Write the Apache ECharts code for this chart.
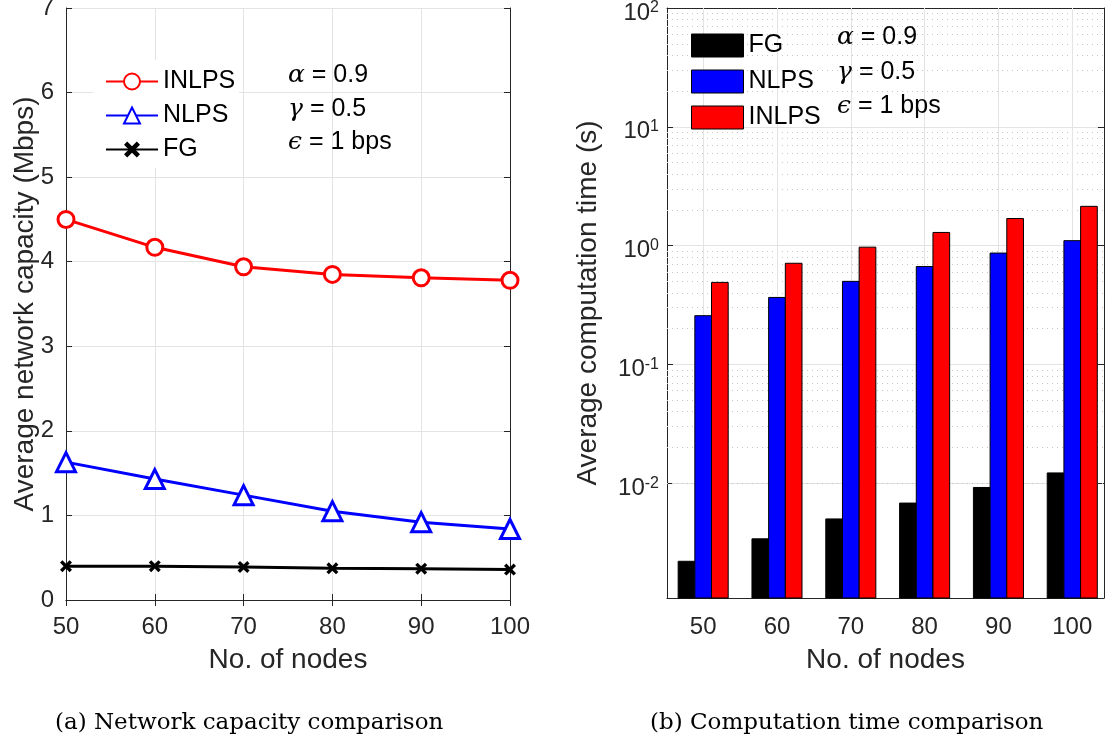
<!DOCTYPE html>
<html>
<head>
<meta charset="utf-8">
<script src="https://cdn.jsdelivr.net/npm/echarts@6/dist/echarts.min.js"></script>
<style>
  html, body { margin: 0; padding: 0; background: #fff; }
  #left { position: absolute; left: 0; top: 0; width: 552px; height: 749px; }
  #right { position: absolute; left: 552px; top: 0; width: 553px; height: 749px; }
</style>
</head>
<body>
<div id="left"></div>
<div id="right"></div>
<script>
// data
var nodes = [50, 60, 70, 80, 90, 100];

var capINLPS = [4.50, 4.17, 3.94, 3.85, 3.81, 3.78];
var capNLPS = [1.63, 1.43, 1.24, 1.05, 0.92, 0.84];
var capFG = [0.40, 0.40, 0.39, 0.375, 0.37, 0.36];

var timeFG = [0.0022, 0.0034, 0.0050, 0.0068, 0.0092, 0.0122];
var timeNLPS = [0.257, 0.366, 0.50, 0.666, 0.865, 1.10];
var timeINLPS = [0.49, 0.71, 0.97, 1.29, 1.69, 2.14];

var paramLines = [['α', ' = 0.9'], ['γ', ' = 0.5'], ['ϵ', ' = 1 bps']];

var font = 'Liberation Sans, Arial, Helvetica, sans-serif';
var ink = '#262626';
var gridCol = '#e3e3e3';
var tickSize = 24, nameSize = 28, legSize = 25;

function pairs(xs, ys) {
  return xs.map(function (x, i) { return [x, ys[i]]; });
}

function paramTexts(x, ys) {
  return paramLines.map(function (p, i) {
    return {
      type: 'text', left: x, top: ys[i] - 15, z: 10,
      style: {
        text: '{i|' + p[0] + '}' + p[1],
        font: legSize + 'px ' + font, fill: '#000',
        rich: { i: { fontFamily: 'DejaVu Serif', fontStyle: 'italic', fontSize: legSize } }
      }
    };
  });
}

function boxAxis(opt) {
  return Object.assign({
    axisLine: { lineStyle: { color: ink, width: 1 } },
    axisTick: { inside: true, length: 6, lineStyle: { color: ink } },
    axisLabel: { show: false },
    splitLine: { show: false }
  }, opt);
}

var nameStyle = { fontSize: nameSize, color: ink, fontFamily: font };
var captionFont = '23px DejaVu Serif';

// ---------- left: network capacity ----------
var left = echarts.init(document.getElementById('left'));
var crossPath = 'path://M2,0 L5,3 L8,0 L10,2 L7,5 L10,8 L8,10 L5,7 L2,10 L0,8 L3,5 L0,2 Z';

left.setOption({
  animation: false,
  grid: { left: 66, top: 8, width: 444, height: 592, outerBoundsMode: 'none', containLabel: false },
  xAxis: [
    boxAxis({
      type: 'value', min: 50, max: 100, interval: 10,
      axisLabel: { show: true, fontSize: tickSize, color: ink, fontFamily: font, margin: 15 },
      splitLine: { show: true, lineStyle: { color: gridCol } },
      name: 'No. of nodes', nameLocation: 'middle', nameGap: 46,
      nameTextStyle: nameStyle
    }),
    boxAxis({ type: 'value', position: 'top', min: 50, max: 100, interval: 10 })
  ],
  yAxis: [
    boxAxis({
      type: 'value', min: 0, max: 7, interval: 1,
      axisLabel: { show: true, fontSize: tickSize, color: ink, fontFamily: font, margin: 12 },
      splitLine: { show: true, lineStyle: { color: gridCol } },
      name: 'Average network capacity (Mbps)', nameLocation: 'middle', nameGap: 27,
      nameMoveOverlap: false,
      nameTextStyle: nameStyle
    }),
    boxAxis({ type: 'value', position: 'right', min: 0, max: 7, interval: 1 })
  ],
  legend: {
    data: ['INLPS', 'NLPS', 'FG'],
    orient: 'vertical', left: 100, top: 64,
    itemWidth: 52, itemHeight: 20, itemGap: 9,
    textStyle: { fontSize: legSize, color: '#000', fontFamily: font },
    selectedMode: false
  },
  graphic: [
    { type: 'rect', shape: { x: 93, y: 60, width: 146, height: 108 }, style: { fill: '#fff' }, z: 1 },
    { type: 'text', left: 55, top: 712, z: 10,
      style: { text: '(a) Network capacity comparison', font: captionFont, fill: '#000' } }
  ].concat(paramTexts(288, [78, 112, 145])),
  series: [
    {
      name: 'INLPS', type: 'line', data: pairs(nodes, capINLPS),
      symbol: 'circle', symbolSize: 16,
      lineStyle: { color: '#ff0000', width: 3 },
      itemStyle: { color: '#fff', borderColor: '#ff0000', borderWidth: 3 }
    },
    {
      name: 'NLPS', type: 'line', data: pairs(nodes, capNLPS),
      symbol: 'triangle', symbolSize: 19,
      lineStyle: { color: '#0000ff', width: 3 },
      itemStyle: { color: '#fff', borderColor: '#0000ff', borderWidth: 3 }
    },
    {
      name: 'FG', type: 'line', data: pairs(nodes, capFG),
      symbol: crossPath, symbolSize: 12,
      lineStyle: { color: '#000', width: 3 },
      itemStyle: { color: '#000' }
    }
  ]
});

// ---------- right: computation time ----------
var right = echarts.init(document.getElementById('right'));
var yMin = 0.00108, yMax = 100;
var barHalf = 1.13;   // half bar width in x units

var minorLevels = [];
[-3, -2, -1, 0, 1].forEach(function (d) {
  for (var m = 2; m <= 9; m++) {
    var v = m * Math.pow(10, d);
    if (v > yMin && v < yMax) minorLevels.push(v);
  }
});

function barRenderer(shift, color) {
  return function (params, api) {
    var x = api.value(0), v = api.value(1);
    var p0 = api.coord([x + shift - barHalf, v]);
    var p1 = api.coord([x + shift + barHalf, yMin]);
    return {
      type: 'rect',
      shape: { x: p0[0], y: p0[1], width: p1[0] - p0[0], height: p1[1] - p0[1] },
      style: { fill: color, stroke: '#000', lineWidth: 1 }
    };
  };
}

function logLabel(v) {
  var e = Math.log10(v);
  var r = Math.round(e);
  if (Math.abs(e - r) > 0.01) return '';
  return '{b|10}{s|' + r + '}';
}

right.setOption({
  animation: false,
  grid: { left: 115, top: 8, width: 437, height: 590, outerBoundsMode: 'none', containLabel: false },
  xAxis: [
    boxAxis({
      type: 'value', min: 45.1, max: 104.3,
      axisTick: { inside: true, length: 6, lineStyle: { color: ink }, customValues: nodes },
      axisLabel: { show: true, fontSize: tickSize, color: ink, fontFamily: font, margin: 17, customValues: nodes },
      name: 'No. of nodes', nameLocation: 'middle', nameGap: 48,
      nameTextStyle: nameStyle
    }),
    boxAxis({
      type: 'value', position: 'top', min: 45.1, max: 104.3,
      axisTick: { inside: true, length: 6, lineStyle: { color: ink }, customValues: nodes }
    })
  ],
  yAxis: [
    boxAxis({
      type: 'log', logBase: 10, min: yMin, max: yMax,
      axisLabel: {
        show: true, margin: 8, formatter: logLabel, padding: [10, 0, 0, 0],
        rich: {
          b: { fontSize: tickSize, color: ink, fontFamily: font },
          s: { fontSize: 16, color: ink, fontFamily: font, verticalAlign: 'bottom', padding: [0, 0, 10, 0] }
        }
      },
      splitLine: { show: true, lineStyle: { color: gridCol } },
      name: 'Average computation time (s)', nameLocation: 'middle', nameGap: 65,
      nameMoveOverlap: false,
      nameTextStyle: nameStyle
    }),
    boxAxis({ type: 'log', logBase: 10, position: 'right', min: yMin, max: yMax })
  ],
  legend: {
    data: ['FG', 'NLPS', 'INLPS'],
    orient: 'vertical', left: 134, top: 28,
    icon: 'rect', itemWidth: 52, itemHeight: 23, itemGap: 11,
    itemStyle: { borderColor: '#000', borderWidth: 1 },
    textStyle: { fontSize: legSize, color: '#000', fontFamily: font },
    selectedMode: false
  },
  graphic: [
    { type: 'rect', shape: { x: 128, y: 18, width: 298, height: 109 }, style: { fill: '#fff' }, z: 1 },
    { type: 'text', left: 98, top: 712, z: 10,
      style: { text: '(b) Computation time comparison', font: captionFont, fill: '#000' } }
  ].concat(paramTexts(285, [40, 75, 109])),
  series: [
    {
      name: 'FG', type: 'custom', data: pairs(nodes, timeFG),
      encode: { x: 0, y: 1 },
      renderItem: barRenderer(-2.26, '#000000'),
      itemStyle: { color: '#000000' },
      markLine: {
        silent: true, z: 1, symbol: ['none', 'none'], label: { show: false },
        lineStyle: { color: '#c4c4c4', width: 1, type: [1, 4] },
        data: minorLevels.map(function (v) { return { yAxis: v }; }).concat(
          nodes.map(function (n) {
            return { xAxis: n, lineStyle: { color: gridCol, width: 1, type: 'solid' } };
          }))
      }
    },
    {
      name: 'NLPS', type: 'custom', data: pairs(nodes, timeNLPS),
      encode: { x: 0, y: 1 },
      renderItem: barRenderer(0, '#0000ff'),
      itemStyle: { color: '#0000ff' }
    },
    {
      name: 'INLPS', type: 'custom', data: pairs(nodes, timeINLPS),
      encode: { x: 0, y: 1 },
      renderItem: barRenderer(2.26, '#ff0000'),
      itemStyle: { color: '#ff0000' }
    }
  ]
});
</script>
</body>
</html>
